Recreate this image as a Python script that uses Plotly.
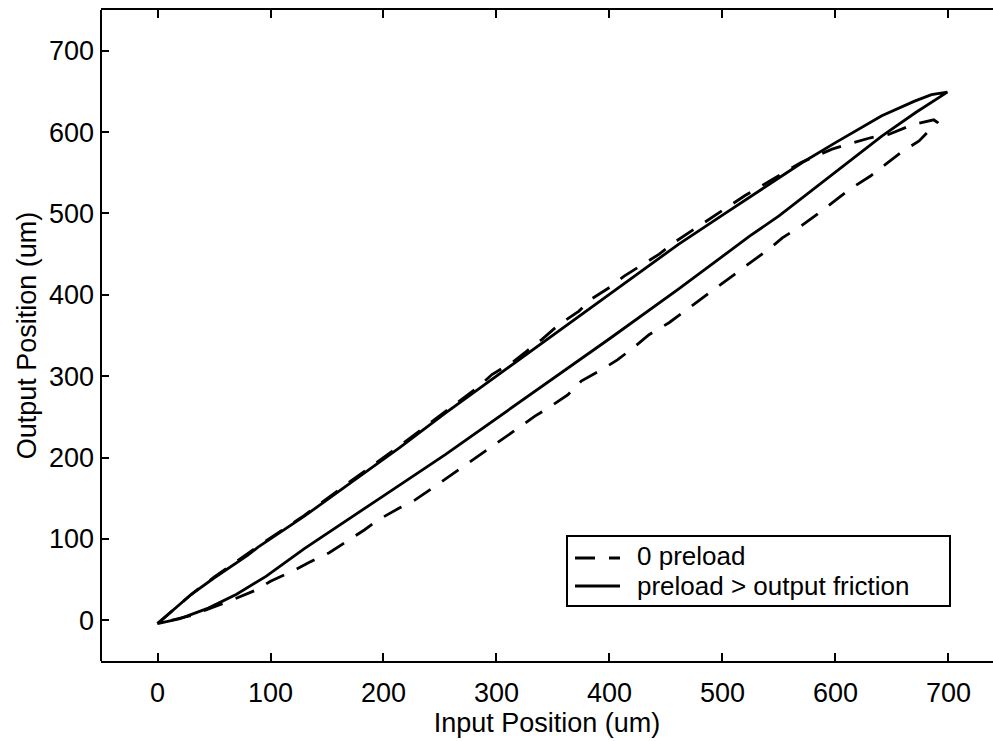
import plotly.graph_objects as go

# ---- data ----
# preload > output friction (solid loop)
solid_up_x = [0, 15, 30, 50, 80, 90, 130, 169, 214, 255, 300, 350, 400, 461, 500, 540, 570, 600, 641, 670, 685, 699]
solid_up_y = [-4, 14, 32, 52, 80, 91, 128, 167, 212, 255, 300, 350, 401, 462, 498, 534, 562, 587, 620, 638, 646, 649]
solid_dn_x = [699, 671, 641, 597, 550, 524, 500, 461, 400, 350, 300, 264, 255, 200, 169, 130, 96, 70, 45, 20, 0]
solid_dn_y = [649, 624, 595, 548, 497, 472, 447, 407, 346, 297, 248, 212, 204, 153, 124, 88, 54, 32, 15, 2, -4]

# 0 preload (dashed loop)
dash_up_x = [0, 15, 30, 50, 90, 130, 169, 214, 255, 267, 285, 296, 314, 326, 340, 355, 373, 383, 400, 413, 429,
             444, 459, 472, 489, 520, 570, 597, 616, 631, 647, 668, 687, 690]
dash_up_y = [-4, 14, 32, 53, 92, 129, 169, 214, 257, 269, 288, 302, 317, 330, 345, 363, 380, 394, 409, 423, 437,
             450, 466, 478, 493, 522, 563, 579, 587, 593, 597, 609, 615, 612]
dash_dn_x = [690, 674, 660, 644, 631, 613, 601, 584, 569, 553, 541, 528, 453, 435, 423, 407, 393, 375, 363, 346,
             334, 317, 246, 228, 214, 196, 183, 165, 152, 134, 119, 100, 87, 66, 30, 0]
dash_dn_y = [612, 589, 577, 560, 546, 530, 517, 499, 484, 470, 456, 443, 366, 351, 337, 320, 308, 294, 277, 261,
             251, 234, 165, 148, 138, 124, 111, 95, 83, 71, 60, 48, 37, 25, 6, -4]

x_ticks = [0, 100, 200, 300, 400, 500, 600, 700]
y_ticks = [0, 100, 200, 300, 400, 500, 600, 700]
series_names = ["0 preload", "preload > output friction"]
x_title = "Input Position (um)"
y_title = "Output Position (um)"

FONT = "Liberation Sans, Arial, Helvetica, sans-serif"

fig = go.Figure()
fig.add_trace(go.Scatter(x=dash_up_x + dash_dn_x, y=dash_up_y + dash_dn_y, mode="lines",
                         name=series_names[0],
                         line=dict(color="black", width=2.8, dash="20px,14px")))
fig.add_trace(go.Scatter(x=solid_up_x + solid_dn_x, y=solid_up_y + solid_dn_y, mode="lines",
                         name=series_names[1],
                         line=dict(color="black", width=2.8)))

# plot area in pixels: left 101, right 993, top 10, bottom 661
L, R, T, B = 101, 993, 10, 661
def px(xp):
    return (xp - L) / (R - L)
def py(yp):
    return (B - yp) / (B - T)

# left spine only (the right one falls outside the reference picture)
fig.add_shape(type="line", xref="paper", yref="paper", x0=0, x1=0, y0=0, y1=1,
              line=dict(color="black", width=2), layer="above")

# custom legend (compact, as in the reference)
fig.add_shape(type="rect", xref="paper", yref="paper",
              x0=px(567), x1=px(950), y0=py(606), y1=py(536),
              line=dict(color="black", width=2), fillcolor="white", layer="above")
fig.add_shape(type="line", xref="paper", yref="paper",
              x0=px(575), x1=px(620), y0=py(558), y1=py(558),
              line=dict(color="black", width=2.8, dash="20px,14px"), layer="above")
fig.add_shape(type="line", xref="paper", yref="paper",
              x0=px(575), x1=px(620), y0=py(586), y1=py(586),
              line=dict(color="black", width=2.8), layer="above")
fig.add_annotation(xref="paper", yref="paper", x=px(636), y=py(556), text=series_names[0],
                   showarrow=False, xanchor="left", yanchor="middle", borderpad=0,
                   font=dict(family=FONT, size=26, color="black"))
fig.add_annotation(xref="paper", yref="paper", x=px(636), y=py(586), text=series_names[1],
                   showarrow=False, xanchor="left", yanchor="middle", borderpad=0,
                   font=dict(family=FONT, size=26, color="black"))

fig.update_layout(
    width=993, height=741,
    margin=dict(l=L, r=0, t=T, b=741 - B),
    paper_bgcolor="white", plot_bgcolor="white",
    showlegend=False,
    font=dict(family=FONT, size=27, color="black"),
)
fig.update_xaxes(
    range=[-50, 739.4], tickvals=x_ticks, ticktext=[str(v) for v in x_ticks],
    ticks="inside", ticklen=8, tickwidth=2, tickcolor="black",
    showline=True, linecolor="black", linewidth=2, mirror="ticks",
    showgrid=False, zeroline=False,
    tickfont=dict(family=FONT, size=27, color="black"),
    ticklabelstandoff=7,
    title=dict(text=x_title, font=dict(family=FONT, size=27, color="black"), standoff=0),
)
fig.update_yaxes(
    range=[-50, 750], tickvals=y_ticks, ticktext=[str(v) for v in y_ticks],
    ticks="inside", ticklen=8, tickwidth=2, tickcolor="black",
    showline=False, mirror=False,
    showgrid=False, zeroline=False,
    tickfont=dict(family=FONT, size=27, color="black"),
    ticklabelstandoff=6,
    title=dict(text=y_title, font=dict(family=FONT, size=27, color="black"), standoff=4),
)

fig.write_html("out.html")
